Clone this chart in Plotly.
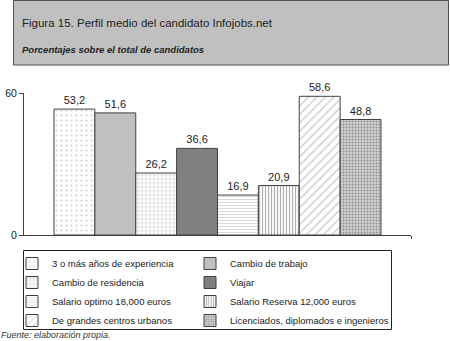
import plotly.graph_objects as go

series = [
    "3 o más años de experiencia",
    "Cambio de trabajo",
    "Cambio de residencia",
    "Viajar",
    "Salario optimo 18,000 euros",
    "Salario Reserva 12,000 euros",
    "De grandes centros urbanos",
    "Licenciados, diplomados e ingenieros",
]
values = [53.2, 51.6, 26.2, 36.6, 16.9, 20.9, 58.6, 48.8]
category = ["Perfil"]
y_ticks = [0, 60]

styles = [
    dict(color="white", pattern=dict(shape=".", fgcolor="#a0a0a0", bgcolor="white", size=5, solidity=0.15)),
    dict(color="#c0c0c0"),
    dict(color="white", pattern=dict(shape="+", fgcolor="#909090", bgcolor="white", size=4, solidity=0.25)),
    dict(color="#808080"),
    dict(color="white", pattern=dict(shape="-", fgcolor="#b0b0b0", bgcolor="white", size=3, solidity=0.35)),
    dict(color="white", pattern=dict(shape="|", fgcolor="#606060", bgcolor="white", size=3, solidity=0.4)),
    dict(color="white", pattern=dict(shape="/", fgcolor="#909090", bgcolor="white", size=6, solidity=0.2)),
    dict(color="#c8c8c8", pattern=dict(shape=".", fgcolor="#505050", bgcolor="#d0d0d0", size=3, solidity=0.35)),
]

FONT = "Liberation Sans, Arial, sans-serif"
L, T, W, H = 24, 93, 387, 142  # plot area in px


def px_x(x):
    return (x - L) / W


def px_y(y):
    return (T + H - y) / H


fig = go.Figure()
for i, (name, v, st) in enumerate(zip(series, values, styles)):
    marker = dict(color=st["color"], line=dict(color="#404040", width=1))
    if "pattern" in st:
        marker["pattern"] = st["pattern"]
    fig.add_trace(go.Bar(
        x=category, y=[v], name=name, marker=marker,
        legend="legend" if i % 2 == 0 else "legend2",
        texttemplate="%{y:.1f}", textposition="outside", cliponaxis=False,
        textfont=dict(size=11, color="#222222", family=FONT),
    ))

# title box
fig.add_shape(type="rect", xref="paper", yref="paper",
              x0=px_x(13.5), x1=px_x(448.5), y0=px_y(65), y1=px_y(0.5),
              fillcolor="#c0c0c0", line=dict(color="#505050", width=1), layer="below")
# legend frame
fig.add_shape(type="rect", xref="paper", yref="paper",
              x0=px_x(23.5), x1=px_x(391.5), y0=px_y(329.5), y1=px_y(250.5),
              fillcolor="rgba(0,0,0,0)", line=dict(color="#222222", width=1), layer="above")

fig.add_annotation(text="Figura 15. Perfil medio del candidato Infojobs.net",
                   xref="paper", yref="paper", x=px_x(20), y=px_y(23),
                   xanchor="left", yanchor="middle", showarrow=False,
                   font=dict(size=11.5, color="#222222", family=FONT))
fig.add_annotation(text="<b><i>Porcentajes sobre el total de candidatos</i></b>",
                   xref="paper", yref="paper", x=px_x(20), y=px_y(50),
                   xanchor="left", yanchor="middle", showarrow=False,
                   font=dict(size=9.5, color="#222222", family=FONT))
fig.add_annotation(text="<i>Fuente: elaboración propia.</i>",
                   xref="paper", yref="paper", x=px_x(-1), y=px_y(334.5),
                   xanchor="left", yanchor="middle", showarrow=False,
                   font=dict(size=9, color="#333333", family=FONT))

leg_common = dict(orientation="v", yanchor="top", xanchor="left",
                  borderwidth=0, bgcolor="rgba(0,0,0,0)",
                  font=dict(size=9.5, color="#222222", family=FONT),
                  itemwidth=30, traceorder="normal", tracegroupgap=0)

fig.update_layout(
    width=450, height=341,
    margin=dict(l=L, r=450 - L - W, t=T, b=341 - T - H, autoexpand=False),
    paper_bgcolor="white", plot_bgcolor="white",
    barmode="group", bargap=0.155, bargroupgap=0,
    separators=",.",
    font=dict(family=FONT, size=11, color="#222222"),
    showlegend=True,
    legend=dict(x=px_x(12), y=px_y(249), **leg_common),
    legend2=dict(x=px_x(190), y=px_y(249), **leg_common),
    xaxis=dict(showticklabels=False, showline=True, linecolor="#404040", linewidth=1,
               tickmode="array", tickvals=[0.5], ticks="outside", ticklen=3,
               tickcolor="#404040", showgrid=False, zeroline=False),
    yaxis=dict(range=[0, 60], tickvals=y_ticks, ticks="outside", ticklen=4,
               tickcolor="#404040", showline=True, linecolor="#404040", linewidth=1,
               showgrid=False, zeroline=False, tickfont=dict(size=10.5, color="#222222")),
)

fig.write_html("out.html")
